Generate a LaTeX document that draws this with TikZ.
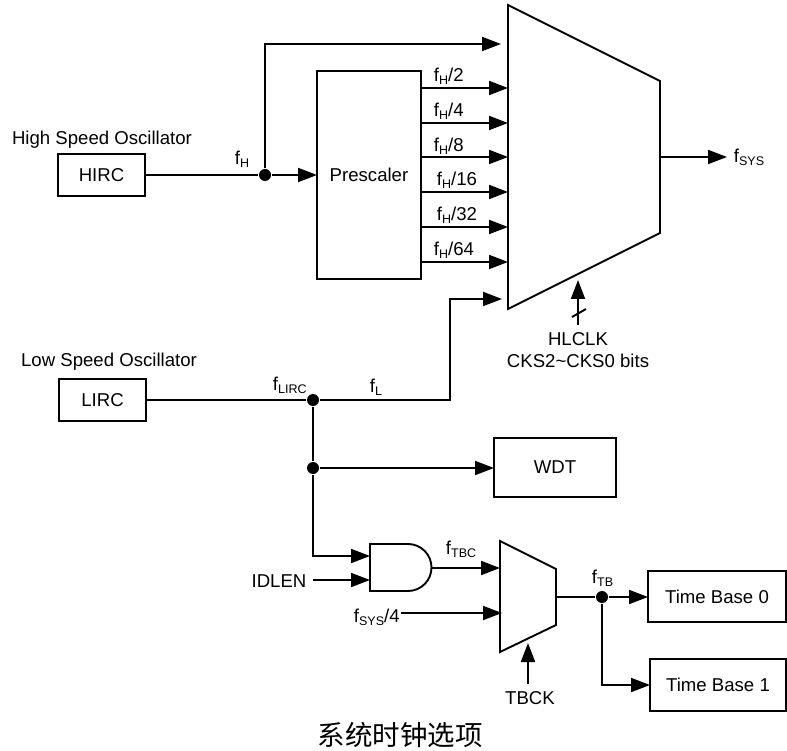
\documentclass[tikz,border=0pt]{standalone}
\usepackage{fontspec}
\setmainfont{Liberation Sans}
\newfontfamily\cjkfont{Noto Sans CJK SC}
\usetikzlibrary{arrows.meta}
\newcommand{\fsub}[1]{f\raisebox{-3pt}{\fontsize{12.5}{12.5}\selectfont #1}}
\tikzset{
  box/.style={draw, inner sep=0pt, outer sep=0pt, anchor=north west},
  lbl/.style={inner sep=0pt, anchor=base west},
  txt/.style={inner sep=0pt},
  dot/.style={circle, fill=black, inner sep=0pt, minimum size=12pt},
}
\begin{document}
\begin{tikzpicture}[x=1pt, y=-1pt, line width=1.9pt, >={Triangle[length=19pt,width=14pt]}, font=\fontsize{18.6}{22}\selectfont]
\useasboundingbox (0,0) rectangle (787,751);

% oscillators
\node[txt] (hsotext) at (102,140) {High Speed Oscillator};
\node[box, minimum width=87pt, minimum height=42pt] (hirc) at (58,154) {HIRC};
\node[txt] (lsotext) at (109,362) {Low Speed Oscillator};
\node[box, minimum width=87pt, minimum height=42pt] (lirc) at (59,379) {LIRC};

% blocks
\node[box, minimum width=104pt, minimum height=208pt] (prescaler) at (317,71) {Prescaler};
\node[box, minimum width=122pt, minimum height=59pt] (wdt) at (494,438) {WDT};
\node[box, minimum width=138pt, minimum height=51pt] (tb0) at (648,571) {Time Base 0};
\node[box, minimum width=136pt, minimum height=52pt] (tb1) at (650,659) {Time Base 1};

% large mux
\draw (508,5) coordinate (muxa) -- (660,81) -- (660,233) -- (508,309) coordinate (muxb) -- cycle;
\coordinate (muxout) at (660,157);
\coordinate (muxsel) at (578,280);
\coordinate (muxh) at (501,44);
\coordinate (muxl) at (502,299);

% small mux
\draw (500,541) -- (556,569) -- (556,625) -- (500,652) -- cycle;
\coordinate (smuxout) at (556,597);
\coordinate (smuxa) at (500,568);
\coordinate (smuxb) at (502,613);
\coordinate (smuxsel) at (528,643);

% and gate
\draw (370,544) -- (408,544) arc(-90:90:23.5) -- (370,591) -- cycle;
\coordinate (andout) at (431,568);
\coordinate (andina) at (370,556);
\coordinate (andinb) at (370,580);

% junctions
\node[dot] (dh) at (265,175) {};
\node[dot] (dl) at (313,400) {};
\node[dot] (dw) at (313,468) {};
\node[dot] (dt) at (602,597) {};

% high speed path
\draw (hirc.east) -- (dh);
\draw[->] (dh) -- (prescaler.west |- dh);
\draw[->] (dh) |- (muxh);

% prescaler outputs
\coordinate (ma) at (508,88);
\coordinate (mb) at (508,123);
\coordinate (mc) at (508,157);
\coordinate (md) at (508,192);
\coordinate (me) at (508,227);
\coordinate (mf) at (508,262);
\draw[->] (prescaler.east |- ma) -- (ma);
\draw[->] (prescaler.east |- mb) -- (mb);
\draw[->] (prescaler.east |- mc) -- (mc);
\draw[->] (prescaler.east |- md) -- (md);
\draw[->] (prescaler.east |- me) -- (me);
\draw[->] (prescaler.east |- mf) -- (mf);
\node[lbl] (fha) at (433,82) {\fsub{H}/2};
\node[lbl] (fhb) at (433,117) {\fsub{H}/4};
\node[lbl] (fhc) at (433,152) {\fsub{H}/8};
\node[lbl] (fhd) at (436,186) {\fsub{H}/16};
\node[lbl] (fhe) at (436,221) {\fsub{H}/32};
\node[lbl] (fhf) at (433,256) {\fsub{H}/64};

% mux output and select
\coordinate (fsysend) at (727,157);
\draw[->] (muxout) -- (fsysend);
\node[lbl] (fsys) at (733,163) {\fsub{SYS}};
\coordinate (hlclkend) at (578,325);
\draw[->] (hlclkend) -- (muxsel);
\draw (572,317) -- (586,309);
\node[txt] (hlclk) at (578,339) {HLCLK};
\node[txt] (cks) at (578,361) {CKS2\textasciitilde CKS0 bits};

% low speed path
\draw (lirc.east) -- (dl);
\draw[->] (dl) -- (450,400) -- (450,299) -- (muxl);
\draw (dl) -- (dw);
\draw[->] (dw) -- (wdt.west |- dw);
\draw[->] (dw) |- (andina);
\node[lbl] (fh) at (234,165) {\fsub{H}};
\node[lbl] (flirc) at (272,390) {\fsub{LIRC}};
\node[lbl] (fl) at (369,392) {\fsub{L}};

% time base
\node[txt] (idlen) at (279,581) {IDLEN};
\coordinate (idlenend) at (313,580);
\draw[->] (idlenend) -- (andinb);
\draw[->] (andout) -- (smuxa);
\node[lbl] (ftbc) at (445,554) {\fsub{TBC}};
\node[lbl] (fsysb) at (353,622) {\fsub{SYS}/4};
\coordinate (fsysbend) at (401,613);
\draw[->] (fsysbend) -- (smuxb);
\draw (smuxout) -- (dt);
\draw[->] (dt) -- (tb0.west |- dt);
\draw[->] (dt) |- (tb1.west);
\node[lbl] (ftb) at (591,583) {\fsub{TB}};
\coordinate (tbckend) at (528,684);
\draw[->] (tbckend) -- (smuxsel);
\node[txt] (tbck) at (530,698) {TBCK};

\node[txt, font=\cjkfont\fontsize{27.5}{30}\selectfont] (caption) at (400,735) {系统时钟选项};

\end{tikzpicture}
\end{document}
